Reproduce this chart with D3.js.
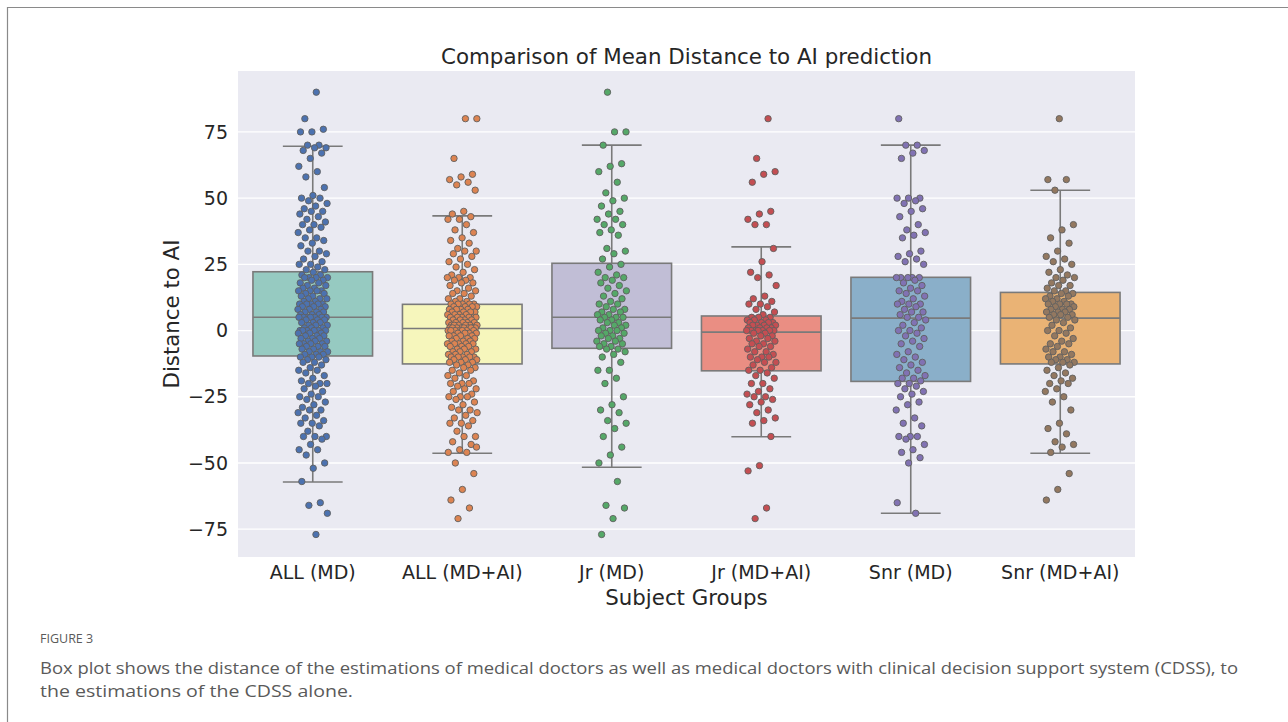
<!DOCTYPE html>
<html>
<head>
<meta charset="utf-8">
<script src="https://cdn.jsdelivr.net/npm/d3@7"></script>
<style>
  body { margin: 0; background: #fff; }
  svg { display: block; }
</style>
</head>
<body>
<div id="chart"></div>
<script>
// groups and colours
var groups = ["ALL (MD)", "ALL (MD+AI)", "Jr (MD)", "Jr (MD+AI)", "Snr (MD)", "Snr (MD+AI)"];
var boxColors = ["#96cac1", "#f6f6bc", "#c1bed6", "#ea8e83", "#8aafc9", "#eab375"];
var dotColors = ["#4c72b0", "#dd8452", "#55a868", "#c44e52", "#8172b3", "#937860"];

// box statistics
var q1 = [-9.6, -12.6, -6.7, -15.2, -19.2, -12.6];
var medians = [5, 0.8, 5, -0.6, 4.7, 4.7];
var q3 = [22.2, 9.9, 25.4, 5.5, 20.1, 14.4];
var whiskerLow = [-57.2, -46.3, -51.6, -40.1, -69, -46.3];
var whiskerHigh = [69.6, 43.3, 70, 31.6, 70, 53];

var yTicks = [-75, -50, -25, 0, 25, 50, 75];

// individual points per group
var allMD = [90, 80, 76, 75, 75, 70, 70, 69, 69, 68, 67, 65, 62, 60, 58, 54, 51, 50, 50, 49,
  48, 47, 46, 45, 45, 44, 43, 42, 41, 40, 40, 39, 38, 37, 35, 35, 34, 33, 32, 30,
  30, 29, 28, 27, 26, 25, 25, 24, 23, 23,
  22, 21, 21, 20, 20, 20, 20, 19, 19, 18, 18, 17, 17, 16, 16, 15, 15, 15, 15, 14,
  14, 13, 13, 12, 12, 12, 11, 11, 10, 10, 10, 10, 10, 9, 9, 9, 8, 8, 8, 7,
  7, 7, 6, 6, 6, 5, 5, 5, 5, 5,
  5, 5, 4, 4, 4, 3, 3, 3, 2, 2, 2, 1, 1, 1, 0, 0, 0, 0, 0, 0,
  -1, -1, -1, -2, -2, -2, -3, -3, -3, -4, -4, -4, -5, -5, -5, -5, -6, -6, -6, -7,
  -7, -8, -8, -8, -9, -9, -9, -10, -10, -10,
  -11, -11, -12, -12, -13, -14, -15, -15, -16, -17, -18, -19, -20, -20, -20, -21, -22, -23, -24, -25,
  -25, -26, -27, -28, -29, -30, -30, -31, -32, -33, -34, -35, -35, -36, -38, -40, -40, -40, -41, -43,
  -45, -45, -47, -50, -52, -57, -65, -66, -69, -77];
var allMDAI = [80, 80, 65, 59, 58, 57, 56, 55, 53, 45, 44, 43, 42, 42, 40, 38, 37, 35, 34, 33,
  31, 30, 30, 29, 28, 27, 26, 25, 24, 23, 22, 21, 20, 20, 20, 19, 19, 18, 18, 17,
  16, 15, 15, 14, 14, 13, 12, 12, 11, 11,
  10, 10, 10, 10, 10, 9, 9, 9, 9, 8, 8, 8, 8, 7, 7, 7, 7, 6, 6, 6,
  6, 5, 5, 5, 5, 5, 5, 4, 4, 4, 4, 3, 3, 3, 3, 3, 2, 2, 2, 2,
  2, 2, 1, 1, 1, 1, 1, 1, 1, 1,
  1, 0, 0, 0, 0, 0, 0, 0, -1, -1, -1, -1, -2, -2, -2, -2, -3, -3, -3, -4,
  -4, -4, -5, -5, -5, -5, -5, -6, -6, -6, -7, -7, -7, -8, -8, -8, -9, -9, -9, -10,
  -10, -10, -10, -10, -11, -11, -11, -12, -12, -12,
  -13, -13, -14, -14, -15, -15, -16, -17, -17, -18, -19, -20, -20, -20, -21, -22, -22, -23, -24, -25,
  -25, -25, -26, -27, -28, -29, -30, -30, -31, -32, -33, -34, -35, -35, -36, -38, -40, -40, -42, -43,
  -45, -46, -46, -50, -54, -60, -64, -67, -71, -44];
var jrMD = [90, 75, 75, 70, 63, 62, 60, 56, 52, 50, 49, 47, 45, 44, 42, 42, 40, 40, 38, 37,
  36, 31, 30, 29, 27,
  25, 24, 22, 21, 20, 20, 19, 18, 17, 16, 15, 14, 13, 12, 11, 10, 10, 9, 8, 8,
  7, 7, 6, 6, 5,
  5, 5, 4, 4, 3, 3, 2, 2, 1, 1, 0, 0, 0, -1, -1, -2, -2, -3, -3, -4,
  -4, -5, -5, -6, -6,
  -7, -7, -8, -9, -10, -12, -15, -15, -18, -20, -25, -28, -30, -31, -34, -35, -37, -40, -44, -47,
  -50, -57, -66, -67, -71, -77];
var jrMDAI = [80, 65, 60, 59, 56, 45, 44, 42, 40, 40, 31, 26, 22, 21, 20, 17, 13, 12, 11, 10,
  10, 9, 8, 7, 6,
  5, 5, 5, 4, 4, 4, 3, 3, 3, 3, 2, 2, 2, 2, 1, 1, 1, 1, 0, 0,
  0, 0, 0, 0, 0,
  -1, -1, -2, -2, -3, -3, -4, -4, -5, -5, -6, -6, -7, -8, -8, -9, -10, -10, -10, -11,
  -12, -12, -13, -14, -15,
  -15, -16, -17, -18, -20, -20, -22, -23, -24, -25, -25, -26, -27, -28, -30, -31, -33, -34, -35, -40,
  -51, -53, -67, -71];
var snrMD = [80, 70, 70, 68, 67, 65, 50, 50, 50, 49, 48, 46, 45, 43, 40, 38, 37, 36, 35, 30,
  29, 28, 27, 26, 25,
  20, 20, 20, 20, 20, 19, 18, 17, 16, 15, 15, 14, 13, 12, 11, 10, 10, 10, 9, 8,
  7, 7, 6, 5, 5,
  4, 3, 2, 1, 0, 0, -1, -2, -3, -4, -5, -6, -8, -9, -10, -11, -12, -13, -14, -15,
  -16, -17, -18, -18, -19,
  -20, -20, -21, -22, -23, -24, -25, -27, -28, -30, -33, -35, -36, -40, -40, -40, -41, -43, -45, -46,
  -48, -50, -65, -69];
var snrMDAI = [80, 57, 57, 53, 40, 38, 35, 33, 30, 28, 27, 26, 25, 23, 22, 21, 20, 20, 19, 18,
  17, 17, 16, 15, 15,
  14, 14, 13, 13, 12, 12, 11, 11, 10, 10, 10, 10, 9, 9, 8, 8, 8, 7, 7, 7,
  6, 6, 6, 5, 5,
  4, 4, 3, 2, 1, 0, 0, -1, -2, -3, -4, -5, -5, -6, -7, -8, -8, -9, -10, -10,
  -11, -11, -12, -12, -12,
  -13, -14, -15, -16, -17, -18, -19, -20, -20, -22, -23, -25, -27, -30, -35, -37, -39, -42, -43, -44,
  -46, -54, -60, -64];
var points = [allMD, allMDAI, jrMD, jrMDAI, snrMD, snrMDAI];

function init() {
    var width = 1288;
    var height = 722;
    var plot = { left: 238, right: 1135, top: 71, bottom: 557 };

    var svg = d3.select("#chart")
        .append("svg")
        .attr("width", width)
        .attr("height", height)
        .style("font-family", "'DejaVu Sans', sans-serif");

    // figure frame
    svg.append("path")
        .attr("d", "M7.5," + height + "V7.5H" + width)
        .attr("fill", "none")
        .attr("stroke", "#8a8a8a")
        .attr("stroke-width", 1.2);

    var x = d3.scaleBand()
        .domain(groups)
        .range([plot.left, plot.right]);

    var y = d3.scaleLinear()
        .domain([-85.5, 98])
        .range([plot.bottom, plot.top]);

    // plot background + grid
    svg.append("rect")
        .attr("x", plot.left)
        .attr("y", plot.top)
        .attr("width", plot.right - plot.left)
        .attr("height", plot.bottom - plot.top)
        .attr("fill", "#eaeaf2");

    svg.append("g")
        .selectAll("line")
        .data(yTicks)
        .enter()
        .append("line")
        .attr("x1", plot.left)
        .attr("x2", plot.right)
        .attr("y1", d => y(d))
        .attr("y2", d => y(d))
        .attr("stroke", "#fff")
        .attr("stroke-width", 1.3);

    // axes (no tick marks, seaborn style)
    var yAxis = svg.append("g")
        .attr("transform", "translate(" + plot.left + ",0)")
        .call(d3.axisLeft(y).tickValues(yTicks).tickSize(0).tickPadding(10)
            .tickFormat(d => d < 0 ? "\u2212" + Math.abs(d) : d));
    yAxis.select(".domain").remove();
    yAxis.selectAll("text").attr("font-size", 19).attr("fill", "#262626")
        .attr("font-family", "'DejaVu Sans', sans-serif");

    var xAxis = svg.append("g")
        .attr("transform", "translate(0," + plot.bottom + ")")
        .call(d3.axisBottom(x).tickSize(0).tickPadding(9));
    xAxis.select(".domain").remove();
    xAxis.selectAll("text").attr("font-size", 19).attr("fill", "#262626")
        .attr("font-family", "'DejaVu Sans', sans-serif");

    var bw = x.bandwidth();
    var boxW = bw * 0.8;

    var boxes = svg.append("g")
        .selectAll("g")
        .data(groups)
        .enter()
        .append("g");

    // whiskers
    boxes.append("line")
        .attr("x1", d => x(d) + bw / 2)
        .attr("x2", d => x(d) + bw / 2)
        .attr("y1", (d, i) => y(whiskerHigh[i]))
        .attr("y2", (d, i) => y(whiskerLow[i]))
        .attr("stroke", "#7a7a7a")
        .attr("stroke-width", 1.6);

    [whiskerHigh, whiskerLow].forEach(function (arr) {
        boxes.append("line")
            .attr("x1", d => x(d) + bw / 2 - boxW / 4)
            .attr("x2", d => x(d) + bw / 2 + boxW / 4)
            .attr("y1", (d, i) => y(arr[i]))
            .attr("y2", (d, i) => y(arr[i]))
            .attr("stroke", "#7a7a7a")
            .attr("stroke-width", 1.6);
    });

    boxes.append("rect")
        .attr("x", d => x(d) + (bw - boxW) / 2)
        .attr("width", boxW)
        .attr("y", (d, i) => y(q3[i]))
        .attr("height", (d, i) => y(q1[i]) - y(q3[i]))
        .attr("fill", (d, i) => boxColors[i])
        .attr("stroke", "#7a7a7a")
        .attr("stroke-width", 1.6);

    boxes.append("line")
        .attr("x1", d => x(d) + (bw - boxW) / 2)
        .attr("x2", d => x(d) + (bw + boxW) / 2)
        .attr("y1", (d, i) => y(medians[i]))
        .attr("y2", (d, i) => y(medians[i]))
        .attr("stroke", "#7a7a7a")
        .attr("stroke-width", 1.6);

    // strip points with a fixed (non-random) jitter
    var jitter = bw * 0.1;
    groups.forEach(function (g, gi) {
        svg.append("g")
            .selectAll("circle")
            .data(points[gi])
            .enter()
            .append("circle")
            .attr("cx", function (d, i) {
                var f = ((i + 1) * 0.6180339887 + gi * 0.37) % 1;
                return x(g) + bw / 2 + (f * 2 - 1) * jitter;
            })
            .attr("cy", d => y(d))
            .attr("r", 3.2)
            .attr("fill", dotColors[gi])
            .attr("stroke", "#606060")
            .attr("stroke-width", 0.9);
    });

    // titles
    svg.append("text")
        .attr("x", (plot.left + plot.right) / 2)
        .attr("y", 64)
        .attr("text-anchor", "middle")
        .attr("font-size", 21.4)
        .attr("fill", "#262626")
        .text("Comparison of Mean Distance to AI prediction");

    svg.append("text")
        .attr("x", (plot.left + plot.right) / 2)
        .attr("y", 605)
        .attr("text-anchor", "middle")
        .attr("font-size", 21.3)
        .attr("fill", "#262626")
        .text("Subject Groups");

    svg.append("text")
        .attr("transform", "translate(179," + (plot.top + plot.bottom) / 2 + ") rotate(-90)")
        .attr("text-anchor", "middle")
        .attr("font-size", 21.3)
        .attr("fill", "#262626")
        .text("Distance to AI");

    // caption
    var cap = svg.append("g")
        .style("font-family", "'Open Sans', 'Noto Sans', sans-serif")
        .attr("fill", "#5a5a5a");
    cap.append("text")
        .attr("x", 40)
        .attr("y", 643)
        .attr("font-size", 12.5)
        .text("FIGURE 3");
    cap.append("text")
        .attr("x", 40)
        .attr("y", 674)
        .attr("font-size", 16.5)
        .attr("textLength", 1198)
        .attr("lengthAdjust", "spacingAndGlyphs")
        .text("Box plot shows the distance of the estimations of medical doctors as well as medical doctors with clinical decision support system (CDSS), to");
    cap.append("text")
        .attr("x", 40)
        .attr("y", 697)
        .attr("font-size", 16.5)
        .attr("textLength", 313)
        .attr("lengthAdjust", "spacingAndGlyphs")
        .text("the estimations of the CDSS alone.");
}

window.onload = init;
</script>
</body>
</html>
